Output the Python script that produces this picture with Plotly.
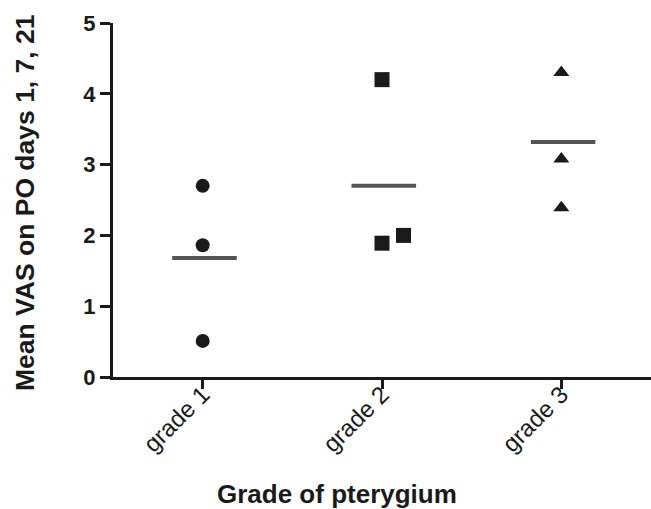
import plotly.graph_objects as go

categories = ["grade 1", "grade 2", "grade 3"]
grade1_vals = [2.70, 1.86, 0.51]
grade2_vals = [4.20, 1.89, 2.00]
grade3_vals = [4.30, 3.08, 2.39]
grade1_jitter = [0.0, 0.0, 0.0]
grade2_jitter = [0.0, 0.0, 0.12]
grade3_jitter = [0.0, 0.0, 0.0]
means = [1.68, 2.70, 3.32]
y_ticks = [0, 1, 2, 3, 4, 5]

series = [
    (grade1_vals, grade1_jitter, "circle", 14),
    (grade2_vals, grade2_jitter, "square", 15),
    (grade3_vals, grade3_jitter, "triangle-up", 14),
]

FONT = "Liberation Sans, Arial, Helvetica, sans-serif"
fig = go.Figure()

for i, (vals, jit, sym, sz) in enumerate(series):
    fig.add_trace(go.Scatter(
        x=[i + j for j in jit], y=vals, mode="markers",
        marker=dict(symbol=sym, size=sz, color="#1a1a1a", line=dict(width=0)),
        showlegend=False, hoverinfo="y"))

half = 0.18
for i, m in enumerate(means):
    fig.add_trace(go.Scatter(
        x=[i - half + 0.01, i + half + 0.01], y=[m, m], mode="lines",
        line=dict(color="#555555", width=4), showlegend=False, hoverinfo="y"))

fig.update_layout(
    width=651, height=509,
    margin=dict(l=113, r=0, t=23, b=132),
    paper_bgcolor="white", plot_bgcolor="white",
    font=dict(family=FONT, color="#1a1a1a"),
    xaxis=dict(
        range=[-0.5, 2.5], tickvals=[0, 1, 2], ticktext=categories,
        tickangle=-45, showgrid=False, zeroline=False,
        showline=True, linecolor="#1a1a1a", linewidth=3,
        ticks="outside", ticklen=9, tickwidth=3, tickcolor="#1a1a1a",
        tickfont=dict(size=24, family=FONT, color="#1a1a1a"),
        ticklabelstandoff=-18,
    ),
    yaxis=dict(
        range=[0, 5], tickvals=y_ticks, ticktext=[f"<b>{v}</b>" for v in y_ticks],
        showgrid=False, zeroline=False,
        showline=True, linecolor="#1a1a1a", linewidth=3,
        ticks="outside", ticklen=10, tickwidth=3, tickcolor="#1a1a1a",
        tickfont=dict(size=22, family=FONT, color="#1a1a1a"),
    ),
    annotations=[
        dict(text="<b>Grade of pterygium</b>", xref="paper", yref="paper",
             x=(337 - 113) / 538, y=(377 - 494) / 354, xanchor="center", yanchor="middle",
             showarrow=False, font=dict(size=26, family=FONT, color="#1a1a1a")),
        dict(text="<b>Mean VAS on PO days 1, 7, 21</b>", xref="paper", yref="paper",
             x=(25 - 113) / 538, y=(377 - 203) / 354, xanchor="center", yanchor="middle",
             textangle=-90, showarrow=False, font=dict(size=26.5, family=FONT, color="#1a1a1a")),
    ],
)

fig.write_html("out.html", config={"displayModeBar": False},
               post_script="document.body.style.margin='0';document.body.style.overflow='hidden';")
